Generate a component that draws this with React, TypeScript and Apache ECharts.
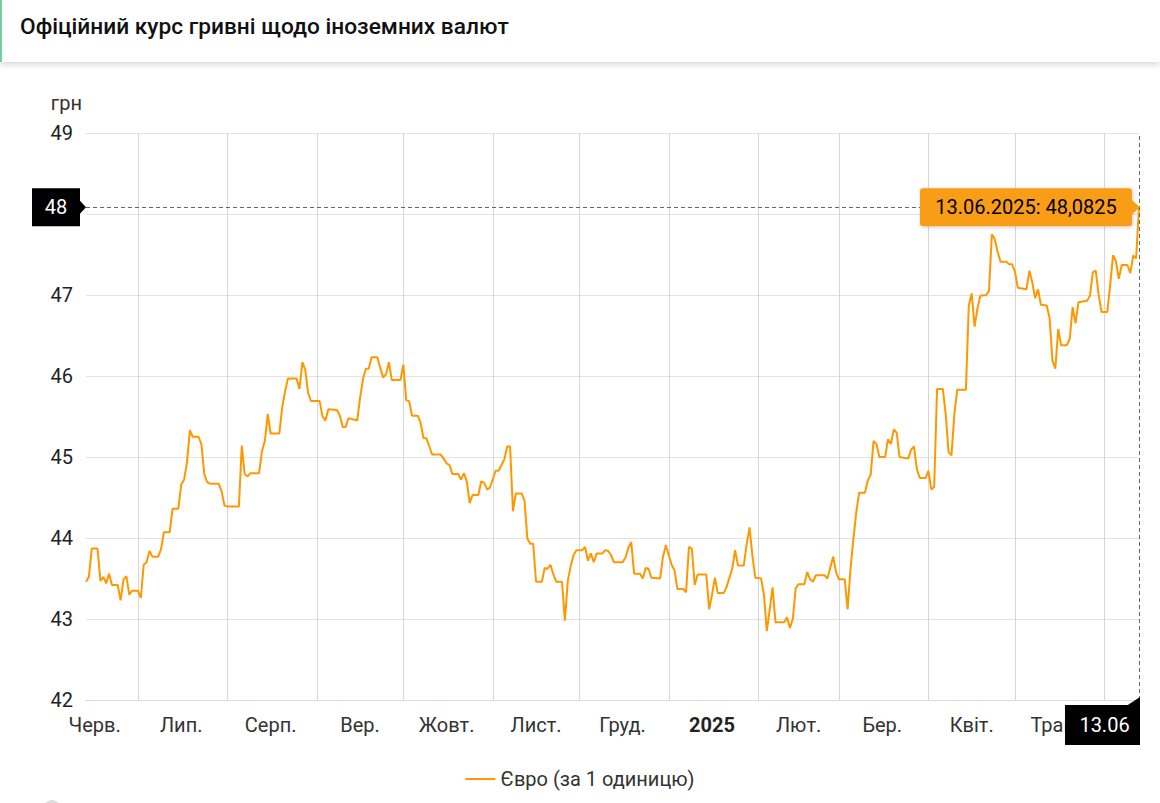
import React, { useEffect, useRef } from "react";
import * as echarts from "echarts";

const titleText = "Офіційний курс гривні щодо іноземних валют";
const seriesName = "Євро (за 1 одиницю)";
const yUnit = "грн";

const dates: string[] = [
  "2024-06-13","2024-06-14","2024-06-15","2024-06-17","2024-06-18","2024-06-19","2024-06-20","2024-06-21","2024-06-22","2024-06-24",
  "2024-06-25","2024-06-26","2024-06-27","2024-06-28","2024-06-29","2024-07-01","2024-07-02","2024-07-03","2024-07-04","2024-07-05",
  "2024-07-06","2024-07-08","2024-07-09","2024-07-10","2024-07-12","2024-07-13","2024-07-15","2024-07-16","2024-07-17","2024-07-18",
  "2024-07-19","2024-07-20","2024-07-22","2024-07-23","2024-07-24","2024-07-25","2024-07-26","2024-07-29","2024-07-30","2024-07-31",
  "2024-08-01","2024-08-05","2024-08-06","2024-08-07","2024-08-08","2024-08-09","2024-08-12","2024-08-13","2024-08-14","2024-08-15",
  "2024-08-16","2024-08-19","2024-08-20","2024-08-21","2024-08-22","2024-08-25","2024-08-26","2024-08-27","2024-08-28","2024-08-29",
  "2024-08-30","2024-09-02","2024-09-03","2024-09-04","2024-09-05","2024-09-08","2024-09-09","2024-09-10","2024-09-11","2024-09-12",
  "2024-09-15","2024-09-16","2024-09-17","2024-09-18","2024-09-19","2024-09-20","2024-09-22","2024-09-23","2024-09-24","2024-09-25",
  "2024-09-26","2024-09-27","2024-09-30","2024-10-01","2024-10-02","2024-10-03","2024-10-04","2024-10-06","2024-10-07","2024-10-08",
  "2024-10-09","2024-10-10","2024-10-11","2024-10-14","2024-10-15","2024-10-16","2024-10-17","2024-10-18","2024-10-20","2024-10-21",
  "2024-10-22","2024-10-23","2024-10-24","2024-10-25","2024-10-27","2024-10-28","2024-10-29","2024-10-30","2024-10-31","2024-11-02",
  "2024-11-03","2024-11-05","2024-11-06","2024-11-07","2024-11-08","2024-11-09","2024-11-11","2024-11-12","2024-11-13","2024-11-14",
  "2024-11-15","2024-11-16","2024-11-18","2024-11-19","2024-11-20","2024-11-21","2024-11-22","2024-11-23","2024-11-25","2024-11-26",
  "2024-11-27","2024-11-28","2024-11-29","2024-11-30","2024-12-02","2024-12-03","2024-12-04","2024-12-05","2024-12-06","2024-12-07",
  "2024-12-09","2024-12-10","2024-12-11","2024-12-12","2024-12-13","2024-12-16","2024-12-17","2024-12-18","2024-12-19","2024-12-20",
  "2024-12-22","2024-12-23","2024-12-24","2024-12-25","2024-12-26","2024-12-29","2024-12-30","2024-12-31","2025-01-02","2025-01-03",
  "2025-01-04","2025-01-06","2025-01-07","2025-01-08","2025-01-09","2025-01-10","2025-01-11","2025-01-14","2025-01-15","2025-01-16",
  "2025-01-17","2025-01-18","2025-01-20","2025-01-21","2025-01-23","2025-01-24","2025-01-25","2025-01-27","2025-01-28","2025-01-29",
  "2025-01-30","2025-01-31","2025-02-02","2025-02-03","2025-02-04","2025-02-05","2025-02-06","2025-02-07","2025-02-10","2025-02-11",
  "2025-02-12","2025-02-13","2025-02-14","2025-02-15","2025-02-17","2025-02-18","2025-02-19","2025-02-20","2025-02-21","2025-02-24",
  "2025-02-25","2025-02-27","2025-02-28","2025-03-01","2025-03-03","2025-03-04","2025-03-05","2025-03-06","2025-03-07","2025-03-08",
  "2025-03-10","2025-03-11","2025-03-12","2025-03-13","2025-03-14","2025-03-15","2025-03-17","2025-03-18","2025-03-19","2025-03-20",
  "2025-03-21","2025-03-22","2025-03-25","2025-03-26","2025-03-27","2025-03-28","2025-03-29","2025-03-31","2025-04-01","2025-04-02",
  "2025-04-03","2025-04-04","2025-04-06","2025-04-07","2025-04-08","2025-04-09","2025-04-10","2025-04-11","2025-04-14","2025-04-15",
  "2025-04-16","2025-04-17","2025-04-18","2025-04-19","2025-04-21","2025-04-22","2025-04-23","2025-04-24","2025-04-25","2025-04-26",
  "2025-04-28","2025-04-29","2025-04-30","2025-05-01","2025-05-02","2025-05-05","2025-05-06","2025-05-07","2025-05-08","2025-05-09",
  "2025-05-10","2025-05-12","2025-05-13","2025-05-14","2025-05-15","2025-05-16","2025-05-17","2025-05-19","2025-05-20","2025-05-21",
  "2025-05-22","2025-05-23","2025-05-26","2025-05-27","2025-05-28","2025-05-29","2025-05-30","2025-05-31","2025-06-02","2025-06-03",
  "2025-06-04","2025-06-05","2025-06-06","2025-06-07","2025-06-09","2025-06-10","2025-06-11","2025-06-12","2025-06-13"
];

const euroRate: number[] = [
  43.46,43.52,43.87,43.87,43.47,43.52,43.44,43.56,43.42,43.42,
  43.23,43.49,43.53,43.30,43.35,43.35,43.26,43.67,43.70,43.84,
  43.77,43.77,43.86,44.07,44.07,44.36,44.36,44.66,44.72,44.93,
  45.33,45.25,45.25,45.16,44.79,44.69,44.67,44.67,44.58,44.40,
  44.39,44.39,45.14,44.79,44.76,44.80,44.80,45.07,45.20,45.53,
  45.29,45.29,45.61,45.81,45.97,45.97,45.84,46.17,46.08,45.79,
  45.69,45.69,45.50,45.45,45.59,45.58,45.51,45.37,45.37,45.48,
  45.45,45.73,45.96,46.09,46.09,46.23,46.23,46.10,45.98,46.02,
  46.17,45.95,45.95,46.14,45.70,45.69,45.51,45.51,45.42,45.23,
  45.23,45.13,45.03,45.03,44.98,44.92,44.90,44.79,44.79,44.72,
  44.80,44.70,44.43,44.53,44.53,44.70,44.68,44.60,44.62,44.83,
  44.83,44.97,45.13,45.13,44.33,44.55,44.55,44.46,43.99,43.93,
  43.93,43.46,43.46,43.63,43.62,43.67,43.55,43.46,43.46,42.98,
  43.47,43.65,43.79,43.85,43.85,43.89,43.72,43.81,43.70,43.81,
  43.81,43.85,43.84,43.79,43.70,43.70,43.76,43.88,43.95,43.56,
  43.56,43.50,43.63,43.62,43.51,43.50,43.77,43.91,43.67,43.60,
  43.37,43.37,43.33,43.89,43.87,43.42,43.55,43.55,43.12,43.30,
  43.51,43.32,43.32,43.39,43.62,43.85,43.66,43.66,43.92,44.13,
  43.78,43.51,43.50,43.30,42.85,43.12,43.39,42.96,42.96,43.02,
  42.89,43.00,43.38,43.43,43.43,43.58,43.49,43.46,43.54,43.54,
  43.50,43.77,43.58,43.49,43.49,43.12,43.62,43.99,44.32,44.56,
  44.56,44.71,44.78,45.20,45.16,45.00,45.00,45.22,45.16,45.34,
  45.30,45.00,44.98,45.09,45.13,44.85,44.74,44.74,44.83,44.60,
  44.63,45.84,45.84,45.53,45.06,45.02,45.53,45.83,45.83,46.87,
  47.02,46.61,46.83,46.99,47.00,47.05,47.75,47.69,47.53,47.41,
  47.41,47.38,47.38,47.29,47.09,47.07,47.30,47.16,46.96,47.07,
  46.88,46.87,46.72,46.19,46.09,46.58,46.38,46.38,46.46,46.85,
  46.65,46.91,46.93,46.99,47.28,47.30,47.01,46.79,46.79,47.12,
  47.49,47.42,47.20,47.37,47.37,47.27,47.49,47.45,48.0825
];

const monthStarts: string[] = [
  "2024-07-01","2024-08-01","2024-09-01","2024-10-01","2024-11-01","2024-12-01",
  "2025-01-01","2025-02-01","2025-03-01","2025-04-01","2025-05-01","2025-06-01"
];
const monthLabelDates: string[] = [
  "2024-06-16","2024-07-16","2024-08-16","2024-09-16","2024-10-16","2024-11-16","2024-12-16",
  "2025-01-16","2025-02-15","2025-03-16","2025-04-16","2025-05-15"
];
const monthLabels: string[] = [
  "Черв.","Лип.","Серп.","Вер.","Жовт.","Лист.","Груд.","2025","Лют.","Бер.","Квіт.","Трав."
];
const yMin = 42;
const yMax = 49;
const yStep = 1;

function ts(s: string): number {
  const [y, m, d] = s.split("-").map(Number);
  return new Date(y, m - 1, d).getTime();
}

const FONT = "Roboto, 'Noto Sans', sans-serif";

export default function App() {
  const ref = useRef<HTMLDivElement>(null);
  useEffect(() => {
    if (!ref.current) return;
    const chart = echarts.init(ref.current, undefined, { renderer: "svg" });
    const data = dates.map((d, i) => [ts(d), euroRate[i]]);
    const xMin = ts(dates[0]);
    const xMax = ts(dates[dates.length - 1]);
    const labelTs = monthLabelDates.map(ts);
    const tickTs = monthStarts.map(ts);
    const lastT = xMax;
    const lastV = euroRate[euroRate.length - 1];
    const pointerY = Math.round(lastV);

    chart.setOption({
      animation: false,
      textStyle: { fontFamily: FONT },
      title: {
        text: titleText,
        left: 15,
        top: 10,
        textStyle: { fontSize: 22.7, fontWeight: 500, color: "#111", fontFamily: FONT },
      },
      grid: { left: 86, right: 21, top: 133, bottom: 103, containLabel: false, outerBoundsMode: "none" },
      legend: {
        data: [seriesName],
        top: 764,
        left: "center",
        icon: "path://M0,0 L30,0 L30,2 L0,2 Z",
        itemWidth: 30,
        itemHeight: 2,
        itemGap: 8,
        textStyle: { fontSize: 20, color: "#333", fontFamily: FONT },
      },
      xAxis: {
        type: "value",
        min: xMin,
        max: xMax,
        axisLine: { show: true, lineStyle: { color: "#dcdcdc" } },
        axisTick: { show: false, customValues: tickTs },
        splitLine: { show: true, lineStyle: { color: "#d6d6d6", width: 1 } },
        axisLabel: {
          show: true,
          customValues: labelTs,
          margin: 15,
          fontSize: 20,
          color: "#333",
          fontFamily: FONT,
          formatter: (v: number) => {
            let idx = 0;
            let best = Infinity;
            labelTs.forEach((t, i) => {
              const dd = Math.abs(t - v);
              if (dd < best) { best = dd; idx = i; }
            });
            const s = monthLabels[idx];
            return /^\d{4}$/.test(s) ? "{b|" + s + "}" : s;
          },
          rich: { b: { fontWeight: "bold", fontSize: 20, color: "#222", fontFamily: FONT } },
        },
      },
      yAxis: {
        type: "value",
        min: yMin,
        max: yMax,
        interval: yStep,
        name: yUnit,
        nameLocation: "end",
        nameGap: 20,
        nameTextStyle: { fontSize: 20, color: "#333", align: "right", padding: [0, 4, 0, 0], fontFamily: FONT },
        axisLine: { show: false },
        axisTick: { show: false },
        axisLabel: {
          fontSize: 20,
          color: "#222",
          margin: 13,
          fontFamily: FONT,
          formatter: (v: number) => (v === pointerY ? "" : String(v)),
        },
        splitLine: { lineStyle: { color: "#e3e3e3", width: 1 } },
      },
      series: [
        {
          name: seriesName,
          type: "line",
          data,
          showSymbol: false,
          symbol: "none",
          lineStyle: { color: "#ff9800", width: 2 },
          itemStyle: { color: "#ff9800" },
          markLine: {
            silent: true,
            symbol: "none",
            label: { show: false },
            lineStyle: { color: "#666", type: [4, 3], width: 1 },
            data: [{ yAxis: lastV }, { xAxis: lastT }],
          },
        },
      ],
    });

    const p = chart.convertToPixel({ xAxisIndex: 0, yAxisIndex: 0 }, [lastT, lastV]) as number[];
    const origin = chart.convertToPixel({ xAxisIndex: 0, yAxisIndex: 0 }, [xMin, yMin]) as number[];
    const px = p[0];
    const py = p[1];
    const gl = origin[0];
    const gb = origin[1];
    const dt = new Date(lastT);
    const dd = String(dt.getDate()).padStart(2, "0");
    const mm = String(dt.getMonth() + 1).padStart(2, "0");
    const tipText = `${dd}.${mm}.${dt.getFullYear()}: ${String(lastV).replace(".", ",")}`;

    const tipW = 212, tipH = 38;
    const tipR = px - 7;
    const yBoxW = 48;
    const xBoxW = 75, xBoxH = 40;

    chart.setOption({
      graphic: [
        {
          type: "rect", z: 0, silent: true,
          shape: { x: 0, y: 0, width: 1160, height: 62 },
          style: { fill: "#fff", shadowBlur: 6, shadowOffsetY: 2, shadowColor: "rgba(0,0,0,0.18)" },
        },
        { type: "rect", z: 1, silent: true, shape: { x: 0, y: 0, width: 2, height: 62 }, style: { fill: "#6fd0a0" } },
        { type: "circle", z: 1, silent: true, shape: { cx: 52, cy: 808, r: 8 }, style: { fill: "#dedede" } },
        {
          type: "rect", z: 100, silent: true,
          shape: { x: tipR - tipW, y: py - tipH / 2, width: tipW, height: tipH, r: 3 },
          style: { fill: "#f99d15", shadowBlur: 4, shadowOffsetX: 1, shadowOffsetY: 1, shadowColor: "rgba(0,0,0,0.2)" },
        },
        {
          type: "polygon", z: 100, silent: true,
          shape: { points: [[tipR - 1, py - 8], [px + 1, py], [tipR - 1, py + 8]] },
          style: { fill: "#f99d15" },
        },
        {
          type: "text", z: 101, silent: true,
          x: tipR - tipW / 2, y: py,
          style: { text: tipText, fill: "#000", fontSize: 20, fontFamily: FONT, align: "center", verticalAlign: "middle" },
        },
        {
          type: "rect", z: 100, silent: true,
          shape: { x: gl - 54, y: py - 19, width: yBoxW, height: 38 },
          style: { fill: "#000" },
        },
        {
          type: "polygon", z: 100, silent: true,
          shape: { points: [[gl - 6.5, py - 7], [gl, py], [gl - 6.5, py + 7]] },
          style: { fill: "#000" },
        },
        {
          type: "text", z: 101, silent: true,
          x: gl - 54 + yBoxW / 2, y: py,
          style: { text: String(pointerY), fill: "#fff", fontSize: 20, fontFamily: FONT, align: "center", verticalAlign: "middle" },
        },
        {
          type: "rect", z: 100, silent: true,
          shape: { x: px + 1 - xBoxW, y: gb + 5, width: xBoxW, height: xBoxH },
          style: { fill: "#000" },
        },
        {
          type: "polygon", z: 100, silent: true,
          shape: { points: [[px - 12, gb + 5.5], [px + 1, gb - 3], [px + 1, gb + 5.5]] },
          style: { fill: "#000" },
        },
        {
          type: "text", z: 101, silent: true,
          x: px + 3 - xBoxW / 2, y: gb + 5 + xBoxH / 2,
          style: { text: `${dd}.${mm}`, fill: "#fff", fontSize: 20, fontFamily: FONT, align: "center", verticalAlign: "middle" },
        },
      ],
    });

    return () => chart.dispose();
  }, []);

  return (
    <div style={{ position: "fixed", left: 0, top: 0, width: 1160, height: 803, background: "#fff" }}>
      <div ref={ref} style={{ width: 1160, height: 803 }} />
    </div>
  );
}
